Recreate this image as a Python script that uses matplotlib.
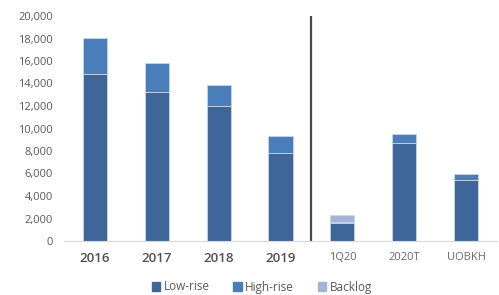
import matplotlib
matplotlib.use("Agg")
import matplotlib.pyplot as plt
from matplotlib.patches import Patch

categories = ["2016", "2017", "2018", "2019", "1Q20", "2020T", "UOBKH"]
low_rise = [14800, 13200, 12000, 7800, 1600, 8700, 5400]
high_rise = [3200, 2600, 1900, 1500, 100, 800, 550]
backlog = [0, 0, 0, 0, 600, 0, 0]
yticks = [0, 2000, 4000, 6000, 8000, 10000, 12000, 14000, 16000, 18000, 20000]

c_low = "#3F6698"
c_high = "#4A7EBB"
c_back = "#A4B4D6"

plt.rcParams['font.family'] = ['Open Sans', 'DejaVu Sans']

fig = plt.figure(figsize=(4.99, 2.95), dpi=100)
ax = fig.add_axes([64/499, 54/295, 433/499, 225/295])

x = list(range(len(categories)))
w = 0.39
edge = "#C9D6EA"
ax.bar(x, low_rise, w, color=c_low, edgecolor=edge, linewidth=0.6, label="Low-rise")
ax.bar(x, high_rise, w, bottom=low_rise, color=c_high, edgecolor=edge,
       linewidth=[0.6 if v > 0 else 0 for v in high_rise], label="High-rise")
bot2 = [a + b for a, b in zip(low_rise, high_rise)]
ax.bar(x, backlog, w, bottom=bot2, color=c_back, edgecolor=edge,
       linewidth=[0.6 if v > 0 else 0 for v in backlog], label="Backlog")

ax.plot([3.5, 3.5], [0, 20100], color="#4a4a4a", linewidth=1.6, solid_capstyle="butt")

ax.set_xlim(-0.5, 6.5)
ax.set_ylim(0, 20000)
ax.set_yticks(yticks)
ax.set_yticklabels([f"{v:,}" for v in yticks], fontsize=8, color="#595959")
ax.set_xticks(x)
ax.set_xticklabels(categories)
for i, lab in enumerate(ax.get_xticklabels()):
    if i < 4:
        lab.set_fontsize(9.5)
        lab.set_fontweight("semibold")
        lab.set_color("#505050")
    else:
        lab.set_fontsize(8)
        lab.set_color("#6a6a6a")
ax.tick_params(axis="both", length=0)
ax.tick_params(axis="x", pad=8)
ax.tick_params(axis="y", pad=8)
for s in ["top", "right", "left"]:
    ax.spines[s].set_visible(False)
ax.spines["bottom"].set_color("#D9D9D9")
ax.spines["bottom"].set_linewidth(0.8)

handles = [Patch(color=c_low), Patch(color=c_high), Patch(color=c_back)]
fig.legend(handles, ["Low-rise", "High-rise", "Backlog"], loc="center",
           bbox_to_anchor=(262/499, 1 - 287/295), ncol=3, frameon=False,
           fontsize=8.5, handlelength=0.7, handleheight=0.7, handletextpad=0.3,
           columnspacing=2.0, labelcolor="#595959")

fig.savefig("out.png", dpi=100)
